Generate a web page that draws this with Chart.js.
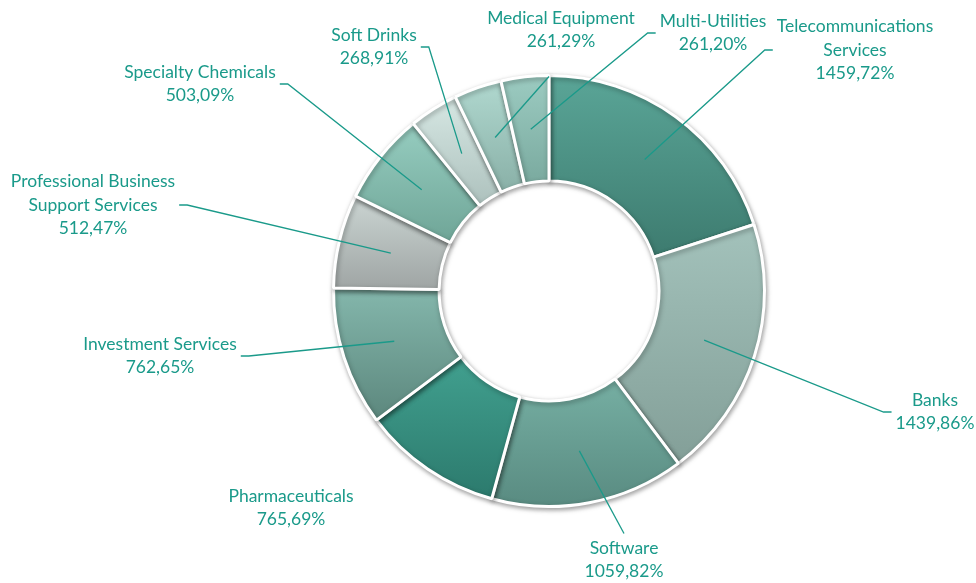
<!DOCTYPE html>
<html>
<head>
<meta charset="utf-8">
<script src="https://cdn.jsdelivr.net/npm/chart.js@4.4.0/dist/chart.umd.min.js"></script>
<style>
    html, body { margin: 0; padding: 0; background: #ffffff; }
    #wrap { width: 976px; height: 583px; position: relative; }
</style>
</head>
<body>
<div id="wrap"><canvas id="sectorChart"></canvas></div>
<script>
// data, clockwise from 12 o'clock
const sectors = [
    'Telecommunications\nServices',
    'Banks',
    'Software',
    'Pharmaceuticals',
    'Investment Services',
    'Professional Business\nSupport Services',
    'Specialty Chemicals',
    'Soft Drinks',
    'Medical Equipment',
    'Multi-Utilities'
];
const weights = [1459.72, 1439.86, 1059.82, 765.69, 762.65, 512.47, 503.09, 268.91, 261.29, 261.20];

// fill: top and bottom colour of each slice's vertical gradient
const topColors = ['#5aa597', '#a3c2bb', '#76afa3', '#41a08f', '#84b7ac', '#cbd5d3', '#96cdc0', '#d6e7e3', '#b0d8cf', '#9ccbc1'];
const bottomColors = ['#3d7b6f', '#839f98', '#598b81', '#2c7a6d', '#5c877d', '#9fa5a4', '#6fa597', '#adc1bd', '#89b0a7', '#7aaa9f'];

// label block centre, relative to the doughnut centre (px)
const labelOffsets = [[306, -241], [386, 121], [75, 269], [-258, 217], [-389, 65], [-456, -86], [-349, -207], [-175, -244], [12, -261], [164, -258]];
const leaderShown = [true, true, true, false, true, true, true, true, true, true];

const labelColor = '#1a9a8a';
const labelFont = '17.5px Lato';
const lineHeight = 23.5;

function formatValue(v) {
    return v.toFixed(2).replace('.', ',') + '%';
}

// per-slice vertical gradient plus a soft drop shadow
const bevelPlugin = {
    id: 'bevel',
    beforeDatasetsDraw(chart) {
        const ctx = chart.ctx;
        const meta = chart.getDatasetMeta(0);
        meta.data.forEach((arc, i) => {
            const p = arc.getProps(['x', 'y', 'startAngle', 'endAngle', 'innerRadius', 'outerRadius'], true);
            let minY = Infinity, maxY = -Infinity;
            for (let s = 0; s <= 24; s++) {
                const a = p.startAngle + (p.endAngle - p.startAngle) * s / 24;
                [p.innerRadius, p.outerRadius].forEach(r => {
                    const y = p.y + Math.sin(a) * r;
                    minY = Math.min(minY, y);
                    maxY = Math.max(maxY, y);
                });
            }
            const grad = ctx.createLinearGradient(0, minY, 0, maxY);
            grad.addColorStop(0, topColors[i]);
            grad.addColorStop(1, bottomColors[i]);
            arc.options.backgroundColor = grad;
        });
        ctx.save();
        ctx.shadowColor = 'rgba(0, 0, 0, 0.35)';
        ctx.shadowBlur = 5;
        ctx.shadowOffsetX = 1;
        ctx.shadowOffsetY = 2;
    },
    afterDatasetsDraw(chart) {
        chart.ctx.restore();
    }
};

// Excel-style outside labels with leader lines
const outsideLabels = {
    id: 'outsideLabels',
    afterDraw(chart) {
        const ctx = chart.ctx;
        const meta = chart.getDatasetMeta(0);
        ctx.save();
        ctx.font = labelFont;
        ctx.textAlign = 'center';
        ctx.textBaseline = 'middle';
        meta.data.forEach((arc, i) => {
            const lines = sectors[i].split('\n').concat([formatValue(weights[i])]);
            const cx = arc.x + labelOffsets[i][0];
            const cy = arc.y + labelOffsets[i][1];
            const w = Math.max(...lines.map(t => ctx.measureText(t).width));
            const h = lines.length * lineHeight;
            const left = cx - w / 2 - 4, right = cx + w / 2 + 4;
            const top = cy - h / 2, bottom = cy + h / 2;

            if (leaderShown[i]) {
                const anchor = arc.getCenterPoint();
                const pts = [[anchor.x, anchor.y]];
                if (anchor.x < left - 15) {
                    pts.push([left - 8, cy], [left, cy]);
                } else if (anchor.x > right + 15) {
                    pts.push([right + 8, cy], [right, cy]);
                } else if (anchor.y > bottom) {
                    pts.push([cx - 12, bottom + 23]);
                } else {
                    pts.push([cx, top - 3]);
                }
                ctx.strokeStyle = labelColor;
                ctx.lineWidth = 1.3;
                ctx.beginPath();
                pts.forEach((pt, k) => k === 0 ? ctx.moveTo(pt[0], pt[1]) : ctx.lineTo(pt[0], pt[1]));
                ctx.stroke();
            }

            ctx.fillStyle = labelColor;
            lines.forEach((t, k) => {
                ctx.fillText(t, cx, cy + (k - (lines.length - 1) / 2) * lineHeight);
            });
        });
        ctx.restore();
    }
};

const ctx = document.getElementById('sectorChart').getContext('2d');
new Chart(ctx, {
    type: 'doughnut',
    data: {
        labels: sectors,
        datasets: [{
            data: weights,
            backgroundColor: topColors,
            borderColor: '#ffffff',
            borderWidth: 3,
            hoverOffset: 0
        }]
    },
    options: {
        responsive: true,
        maintainAspectRatio: false,
        animation: false,
        cutout: '51%',
        layout: {
            padding: { left: 332, right: 210, top: 74, bottom: 75 }
        },
        plugins: {
            legend: { display: false },
            tooltip: { enabled: false }
        }
    },
    plugins: [bevelPlugin, outsideLabels]
});
</script>
</body>
</html>
